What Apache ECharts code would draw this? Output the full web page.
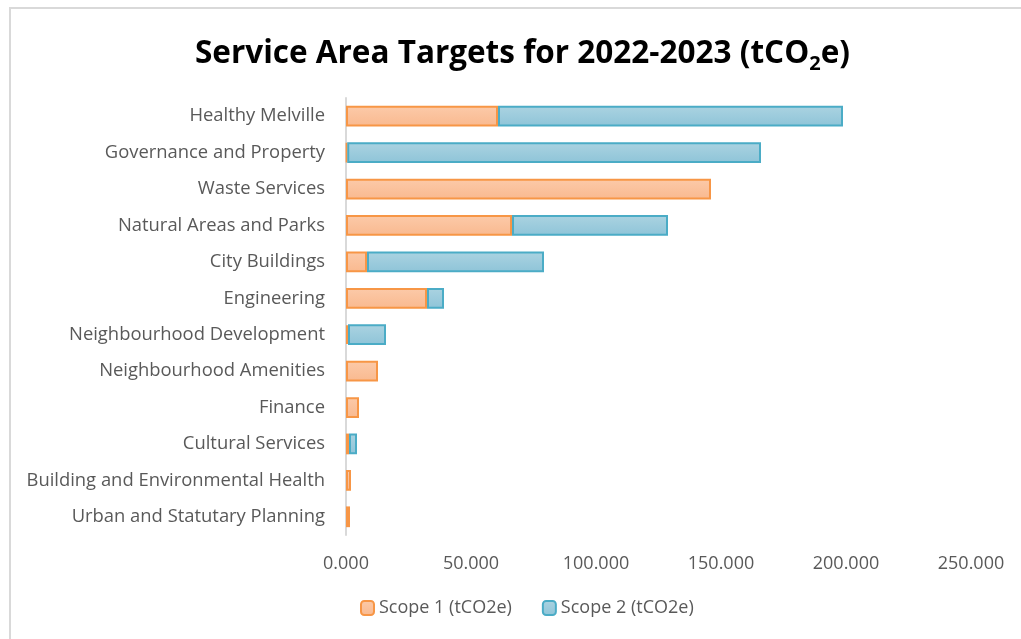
<!DOCTYPE html>
<html>
<head>
<meta charset="utf-8">
<script src="https://cdn.jsdelivr.net/npm/echarts@6/dist/echarts.min.js"></script>
<style>html,body{margin:0;padding:0;background:#fff;}#c{width:1021px;height:639px;}</style>
</head>
<body>
<div id="c"></div>
<script>
const categories = ["Healthy Melville","Governance and Property","Waste Services","Natural Areas and Parks","City Buildings","Engineering","Neighbourhood Development","Neighbourhood Amenities","Finance","Cultural Services","Building and Environmental Health","Urban and Statutary Planning"];
const scope1 = [60.8, 0.5, 146.0, 66.4, 8.4, 32.4, 0.8, 12.8, 5.2, 1.2, 2.0, 1.6];
const scope2 = [138.0, 165.5, 0, 62.4, 70.8, 6.8, 15.2, 0, 0, 3.2, 0, 0];
const seriesNames = ["Scope 1 (tCO2e)", "Scope 2 (tCO2e)"];
const axisMax = 250, axisInterval = 50;

const chart = echarts.init(document.getElementById('c'), null, {renderer:'canvas'});
const font = "'Open Sans', 'Liberation Sans', sans-serif";
function grad(a,b){return new echarts.graphic.LinearGradient(0,0,0,1,[{offset:0,color:a},{offset:1,color:b}]);}
const nz = arr => arr.map(v => v === 0 ? null : v);
chart.setOption({
  animation:false,
  backgroundColor:'#fff',
  graphic:[{type:'rect',shape:{x:10,y:8,width:1040,height:660},style:{fill:'none',stroke:'#d9d9d9',lineWidth:2},silent:true}],
  title:{
    text:'{t|Service Area Targets for 2022-2023 (tCO}{s|2}{t|e)}',
    left:190, top:29,
    textStyle:{rich:{
      t:{fontFamily:font,fontWeight:'bold',fontSize:31.5,color:'#000',lineHeight:40,verticalAlign:'middle'},
      s:{fontFamily:font,fontWeight:'bold',fontSize:20,color:'#000',lineHeight:22,verticalAlign:'bottom'}
    }}
  },
  legend:{
    data:seriesNames, bottom:17, left:355, itemWidth:13, itemHeight:14, itemGap:30,
    textStyle:{fontFamily:font,fontSize:18,color:'#595959'}
  },
  grid:{left:346,right:50,top:98,bottom:104,containLabel:false},
  xAxis:{type:'value',min:0,max:axisMax,interval:axisInterval,
    axisLine:{show:false},axisTick:{show:false},splitLine:{show:false},
    axisLabel:{formatter:v=>v.toFixed(3),fontFamily:font,fontSize:18,color:'#595959',margin:20}},
  yAxis:{type:'category',data:categories,inverse:true,
    axisLine:{show:true,lineStyle:{color:'#d9d9d9',width:2}},axisTick:{show:false},
    axisLabel:{fontFamily:font,fontSize:18.4,color:'#595959',margin:21}},
  series:[
    {name:seriesNames[0],type:'bar',stack:'s',data:nz(scope1),barCategoryGap:'43%',
     itemStyle:{color:grad('#fccaa9','#f9b98f'),borderColor:'#f79646',borderWidth:2}},
    {name:seriesNames[1],type:'bar',stack:'s',data:nz(scope2),barCategoryGap:'43%',
     itemStyle:{color:grad('#abd3e1','#8ec4d8'),borderColor:'#4bacc6',borderWidth:2}}
  ]
});
</script>
</body>
</html>
